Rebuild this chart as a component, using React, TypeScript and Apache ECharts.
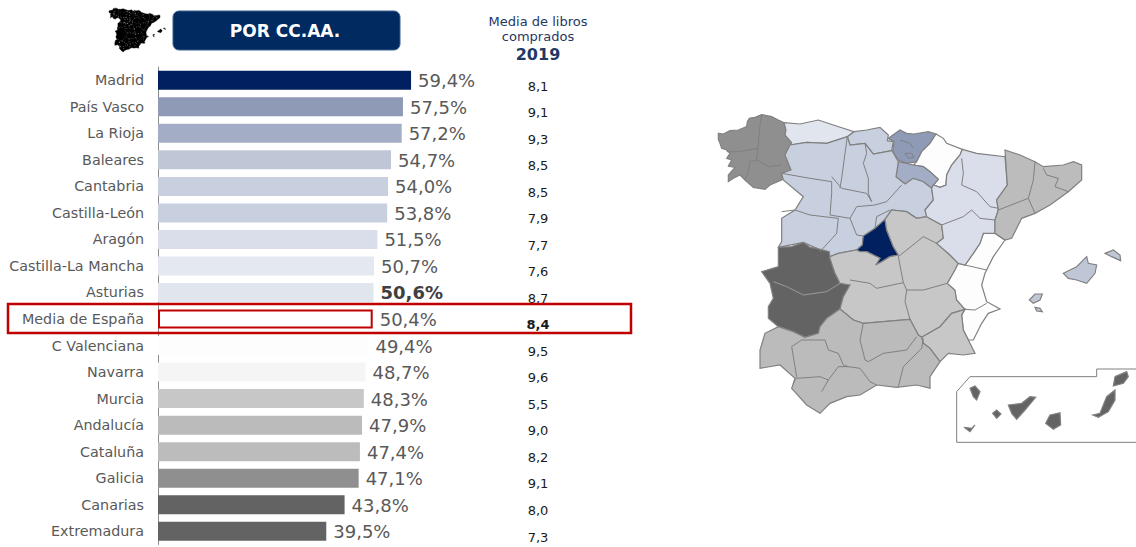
import React, { useEffect, useRef } from "react";
import * as echarts from "echarts";

const categories = ["Madrid","País Vasco","La Rioja","Baleares","Cantabria","Castilla-León","Aragón","Castilla-La Mancha","Asturias","Media de España","C Valenciana","Navarra","Murcia","Andalucía","Cataluña","Galicia","Canarias","Extremadura"];
const buyers = [59.4,57.5,57.2,54.7,54.0,53.8,51.5,50.7,50.6,50.4,49.4,48.7,48.3,47.9,47.4,47.1,43.8,39.5];
const books = [8.1,9.1,9.3,8.5,8.5,7.9,7.7,7.6,8.7,8.4,9.5,9.6,5.5,9.0,8.2,9.1,8.0,7.3];
const barColors = ["#002060","#8e9ab6","#a3aec6","#bfc7d7","#c8d0df","#c8d0df","#d9deea","#e4e8f0","#e1e6ee","#ffffff","#fdfdfd","#f5f5f5","#c7c7c7","#bbbbbb","#bcbcbc","#8f8f8f","#636363","#636363"];
const mapColorOverrides: Record<string, string> = { "Castilla-La Mancha": "#c7c7c7", "Navarra": "#fdfdfd" };
const MEDIA = "Media de España";
const ASTURIAS = "Asturias";
const comma = (v: number, d: number) => v.toFixed(d).replace(".", ",");

type Pt = [number, number];
// Region outlines (3x crop coordinates)
const regionShapes: Record<string, Pt[][]> = {
  "Galicia": [[[25,70],[40,72],[60,62],[85,60],[110,50],[112,35],[118,25],[135,22],[155,14],[185,20],[205,30],[222,38],[228,60],[225,75],[245,98],[225,135],[243,180],[215,210],[180,225],[165,238],[130,232],[105,210],[90,195],[70,205],[55,215],[55,195],[75,172],[55,168],[65,150],[50,145],[60,130],[50,120],[35,115],[30,100],[25,88]]],
  "Asturias": [[[222,38],[270,42],[325,30],[370,45],[432,65],[412,80],[350,100],[290,97],[240,105],[245,98],[225,75],[228,60]]],
  "Cantabria": [[[432,65],[470,60],[510,52],[535,75],[532,92],[550,95],[545,122],[490,132],[465,100],[420,105],[412,80]]],
  "País Vasco": [[[535,85],[570,60],[590,70],[612,72],[655,65],[678,72],[660,100],[635,125],[620,155],[590,160],[565,150],[548,125],[552,95]]],
  "Navarra": [[[678,72],[700,85],[710,100],[757,118],[750,135],[725,165],[710,195],[708,225],[690,232],[670,225],[685,208],[660,185],[640,170],[610,165],[620,155],[635,125],[660,100]]],
  "La Rioja": [[[565,155],[590,160],[610,165],[640,170],[660,185],[685,208],[670,225],[665,235],[640,215],[610,205],[585,222],[558,200]]],
  "Castilla-León": [[[243,180],[225,135],[240,105],[290,97],[350,100],[412,80],[420,105],[465,100],[490,132],[545,122],[548,125],[565,155],[558,200],[585,222],[610,205],[640,215],[665,235],[670,270],[645,300],[650,320],[620,325],[590,305],[545,300],[525,328],[495,355],[460,378],[457,405],[440,420],[385,430],[360,440],[330,425],[320,415],[280,397],[205,412],[215,395],[215,325],[255,300],[280,260],[220,210],[215,190]]],
  "Extremadura": [[[205,412],[245,410],[280,397],[300,412],[320,415],[358,425],[360,445],[375,490],[390,520],[420,525],[400,560],[390,597],[350,625],[330,650],[325,670],[285,682],[250,665],[205,650],[175,625],[175,590],[190,565],[180,520],[155,485],[205,470],[205,435]]],
  "Madrid": [[[525,328],[530,360],[550,410],[565,435],[540,440],[515,455],[497,465],[510,445],[470,425],[450,425],[440,420],[457,405],[460,378],[495,355]]],
  "Castilla-La Mancha": [[[545,300],[590,305],[620,325],[650,320],[695,345],[700,385],[680,400],[720,435],[745,460],[735,480],[712,520],[735,540],[740,570],[765,598],[725,610],[690,650],[635,682],[625,675],[600,628],[520,635],[460,640],[430,630],[390,597],[400,560],[420,525],[390,520],[375,490],[360,445],[360,440],[385,430],[440,420],[450,425],[470,425],[510,445],[497,465],[515,455],[540,440],[565,435],[550,410],[530,360],[525,328]]],
  "C Valenciana": [[[820,370],[855,370],[885,390],[850,440],[825,490],[815,525],[830,575],[870,597],[835,610],[815,640],[790,690],[775,690],[760,660],[755,615],[765,598],[740,570],[735,540],[712,520],[735,480],[745,460],[765,465],[790,430],[810,400]]],
  "Aragón": [[[757,118],[800,130],[885,140],[892,225],[860,270],[865,300],[855,330],[855,370],[820,370],[810,400],[790,430],[765,465],[745,460],[720,435],[680,400],[700,385],[695,345],[650,320],[645,300],[670,270],[665,235],[670,225],[690,232],[708,225],[710,195],[725,165],[750,135]]],
  "Cataluña": [[[885,120],[930,135],[975,155],[1000,170],[1060,165],[1090,155],[1115,165],[1115,210],[1075,245],[1020,285],[975,310],[935,325],[915,365],[905,385],[885,390],[855,370],[855,330],[865,300],[860,270],[892,225]]],
  "Murcia": [[[725,610],[765,598],[755,615],[760,660],[775,690],[795,730],[760,735],[715,730],[690,755],[660,715],[640,700],[635,682],[690,650]]],
  "Andalucía": [[[205,650],[250,665],[285,682],[325,670],[330,650],[350,625],[390,597],[430,630],[460,640],[520,635],[600,628],[625,675],[635,682],[640,700],[660,715],[690,755],[660,800],[660,835],[620,825],[560,832],[500,825],[450,855],[410,860],[360,880],[330,910],[290,885],[245,835],[255,805],[210,765],[150,775],[150,720],[165,670]]],
  "Baleares": [
    [[1060,490],[1100,470],[1130,440],[1135,460],[1160,465],[1155,490],[1130,520],[1100,510],[1075,505]],
    [[1185,430],[1210,420],[1230,435],[1232,452],[1205,440]],
    [[958,570],[975,552],[997,552],[990,570],[970,580]],
    [[975,592],[990,595],[997,605],[980,603]],
  ],
  "Canarias": [
    [[780,835],[795,828],[810,845],[800,870],[790,860]],
    [[848,910],[860,900],[873,912],[860,925]],
    [[895,885],[935,880],[960,860],[977,862],[945,900],[920,928],[905,910]],
    [[1020,915],[1050,908],[1052,945],[1030,958],[1007,940]],
    [[762,952],[785,955],[795,945],[780,965]],
    [[1148,915],[1170,910],[1190,860],[1215,840],[1215,870],[1195,905],[1165,922]],
    [[1215,800],[1250,785],[1255,800],[1240,820],[1210,828]],
  ],
};
const provinceLines: Pt[][] = [
  [[155,14],[150,45],[145,100],[140,150],[175,170],[215,165]],
  [[50,125],[85,125],[145,115]],
  [[140,150],[120,155],[115,185],[105,210]],
  [[412,80],[405,130],[395,205],[390,235]],
  [[465,100],[470,130],[460,160],[475,205],[475,250],[485,275]],
  [[215,190],[300,205],[365,215],[365,250],[360,315]],
  [[365,200],[395,235],[470,250],[485,275]],
  [[360,315],[420,325],[440,290],[495,285],[530,275],[575,225]],
  [[420,325],[440,375],[460,378]],
  [[495,355],[500,320],[540,300]],
  [[215,305],[255,300],[300,315],[385,325],[380,370],[330,425]],
  [[755,145],[760,190],[755,225],[800,245],[840,290],[865,295]],
  [[695,345],[760,320],[785,300],[810,325],[855,330]],
  [[975,155],[970,210],[955,265],[975,310]],
  [[865,300],[955,265]],
  [[1000,175],[1010,195],[1045,205],[1035,230],[1075,245]],
  [[765,465],[830,480]],
  [[765,598],[795,600],[830,580]],
  [[565,440],[590,420],[640,380],[680,400]],
  [[420,510],[480,520],[500,535],[580,518]],
  [[590,540],[640,540],[712,520]],
  [[565,440],[580,518],[590,540],[585,575],[600,628]],
  [[245,710],[260,800],[250,820]],
  [[245,710],[275,690],[345,690],[355,720],[385,730],[400,765],[415,770]],
  [[460,640],[450,690],[465,750],[475,755]],
  [[475,755],[520,730],[590,720],[620,680]],
  [[260,805],[330,800],[355,810],[385,770],[415,770]],
  [[335,845],[355,810]],
  [[415,770],[450,775],[480,815],[500,825]],
  [[640,685],[635,715],[580,770],[565,830]],
  [[570,90],[600,100],[610,115]],
  [[585,130],[605,130],[612,142],[595,145],[585,130]],
];
const extremaduraLine: Pt[] = [[190,515],[230,530],[280,555],[350,545],[390,520]];
const canaryBox: Pt[] = [[1278,777],[1160,777],[1160,800],[780,800],[740,845],[740,997],[1278,997]];

const toPx = (p: Pt): Pt => [710 + p[0] / 3, 110 + p[1] / 3];
const toLogo = (p: Pt): Pt => [109 + (p[0] - 25) * 0.0468, 8 + (p[1] - 14) * 0.049];

const geoJson = {
  type: "FeatureCollection",
  features: Object.entries(regionShapes).map(([name, polys]) => ({
    type: "Feature",
    properties: { name },
    geometry: {
      type: "MultiPolygon",
      coordinates: polys.map((poly) => {
        const ring = poly.map((p) => { const q = toPx(p); return [q[0], -q[1]]; });
        return [[...ring, ring[0]]];
      }),
    },
  })),
};
const allPts = Object.values(regionShapes).flat(2).map(toPx);
const minX = Math.min(...allPts.map((p) => p[0]));
const maxX = Math.max(...allPts.map((p) => p[0]));
const minY = Math.min(...allPts.map((p) => p[1]));
const maxY = Math.max(...allPts.map((p) => p[1]));

export default function App() {
  const ref = useRef<HTMLDivElement>(null);
  useEffect(() => {
    if (!ref.current) return;
    echarts.registerMap("espana", geoJson as any);
    const chart = echarts.init(ref.current, undefined, { renderer: "svg" });
    const font = "'DejaVu Sans', Verdana, sans-serif";
    const mapRegions = Object.keys(regionShapes);
    const logoShapes = Object.entries(regionShapes)
      .filter(([n]) => n !== "Canarias")
      .flatMap(([, polys]) => polys)
      .map((poly) => ({
        type: "polygon", z: 10, silent: true,
        shape: { points: poly.map(toLogo) },
        style: { fill: "#000000", stroke: "#000000", lineWidth: 0.4 },
      }));
    const logoLines = provinceLines.map((l) => ({
      type: "polyline", z: 11, silent: true,
      shape: { points: l.map(toLogo) },
      style: { fill: "none", stroke: "#ffffff", lineWidth: 0.5, lineDash: [0.8, 2] },
    }));
    chart.setOption({
      animation: false,
      backgroundColor: "#ffffff",
      textStyle: { fontFamily: font },
      grid: [
        { left: 158, top: 67, width: 298.2, height: 477.5 },
        { left: 538, top: 86, width: 60, height: 451 },
      ],
      xAxis: [
        { type: "value", gridIndex: 0, min: 0, max: 70, show: false },
        { type: "value", gridIndex: 1, min: 0, max: 10, show: false },
      ],
      yAxis: [
        {
          type: "category", gridIndex: 0, inverse: true, data: categories,
          axisTick: { show: false },
          axisLine: { lineStyle: { color: "#8c8c8c", width: 1 } },
          axisLabel: { color: "#595959", fontSize: 14.3, margin: 14, fontFamily: font, interval: 0 },
        },
        {
          type: "category", gridIndex: 1, inverse: true, boundaryGap: false, data: books.map((b) => comma(b, 1)),
          axisTick: { show: false }, axisLine: { show: false },
          axisLabel: {
            margin: 0, align: "center", fontSize: 13, color: "#1a1a1a", fontFamily: font, interval: 0,
            formatter: (v: string, i: number) => categories[i] === MEDIA ? `{b|${v}}` : v,
            rich: { b: { fontWeight: "bold", fontSize: 13, color: "#1a1a1a", fontFamily: font } },
          },
        },
      ],
      series: [
        {
          type: "bar", xAxisIndex: 0, yAxisIndex: 0, barWidth: 19,
          data: buyers.map((v, i) => ({
            value: v,
            itemStyle: categories[i] === MEDIA
              ? { color: "#ffffff", borderColor: "#c00000", borderWidth: 2 }
              : { color: barColors[i] },
            label: categories[i] === ASTURIAS ? { fontWeight: "bold", color: "#404040" } : undefined,
          })),
          label: {
            show: true, position: "right", distance: 7, offset: [0, 0.5],
            fontSize: 18, color: "#595959", fontFamily: font,
            formatter: (p: any) => `${comma(p.value, 1)}%`,
          },
        },
        {
          type: "scatter", xAxisIndex: 1, yAxisIndex: 1, symbolSize: 0, silent: true,
          data: books.map((b, i) => [b, i]),
        },
        {
          type: "map", map: "espana", aspectScale: 1, roam: false, silent: true,
          left: minX, top: minY, width: maxX - minX, height: maxY - minY,
          label: { show: false },
          itemStyle: { borderColor: "#808080", borderWidth: 1.2 },
          data: mapRegions.map((name) => {
            const i = categories.indexOf(name);
            return { name, value: buyers[i], itemStyle: { areaColor: mapColorOverrides[name] ?? barColors[i] } };
          }),
        },
      ],
      graphic: [
        ...logoShapes, ...logoLines,
        {
          type: "rect", z: 10, silent: true,
          shape: { x: 173, y: 11, width: 227, height: 39, r: 6 },
          style: { fill: "#002a60", stroke: "#3a5f8f", lineWidth: 1 },
        },
        {
          type: "text", z: 11, silent: true, x: 285, y: 31,
          style: { text: "POR CC.AA.", fill: "#ffffff", fontSize: 17, fontWeight: "bold", fontFamily: font, align: "center", verticalAlign: "middle" },
        },
        {
          type: "text", z: 11, silent: true, x: 538, y: 21,
          style: { text: "Media de libros", fill: "#1f3864", fontSize: 13, fontFamily: font, align: "center", verticalAlign: "middle" },
        },
        {
          type: "text", z: 11, silent: true, x: 538, y: 36,
          style: { text: "comprados", fill: "#1f3864", fontSize: 13, fontFamily: font, align: "center", verticalAlign: "middle" },
        },
        {
          type: "text", z: 11, silent: true, x: 538, y: 54,
          style: { text: "2019", fill: "#1f3864", fontSize: 16, fontWeight: "bold", fontFamily: font, align: "center", verticalAlign: "middle" },
        },
        {
          type: "rect", z: 12, silent: true,
          shape: { x: 8, y: 304, width: 623, height: 29 },
          style: { fill: "none", stroke: "#c00000", lineWidth: 2.5 },
        },
        ...provinceLines.map((l) => ({
          type: "polyline", z: 10, silent: true,
          shape: { points: l.map(toPx) },
          style: { fill: "none", stroke: "#808080", lineWidth: 1 },
        })),
        {
          type: "polyline", z: 10, silent: true,
          shape: { points: extremaduraLine.map(toPx) },
          style: { fill: "none", stroke: "#9a9a9a", lineWidth: 1 },
        },
        {
          type: "polyline", z: 10, silent: true,
          shape: { points: canaryBox.map(toPx) },
          style: { fill: "none", stroke: "#808080", lineWidth: 1 },
        },
      ],
    });
    return () => chart.dispose();
  }, []);
  return <div ref={ref} style={{ position: "fixed", left: 0, top: 0, width: 1136, height: 547 }} />;
}
